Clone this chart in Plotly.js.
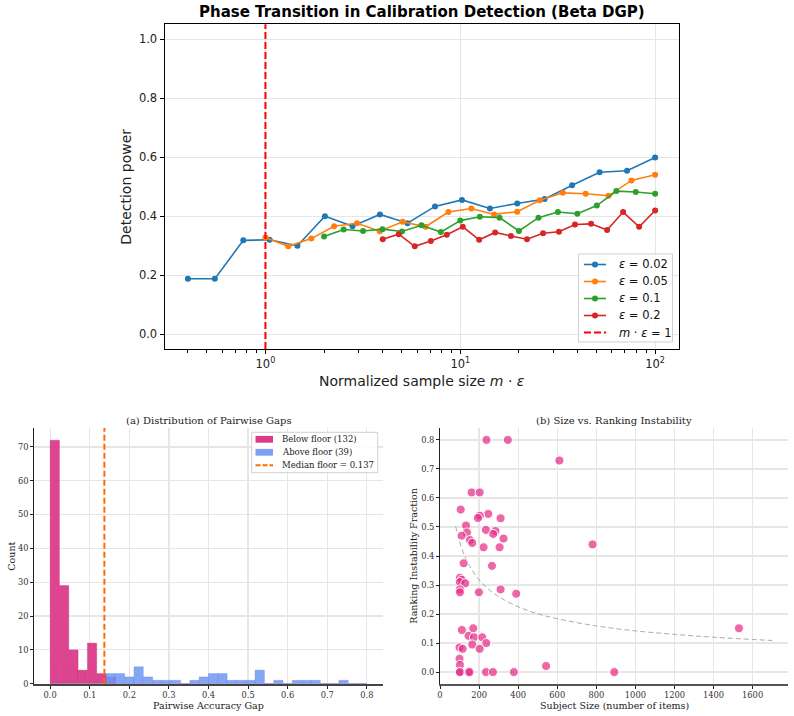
<!DOCTYPE html>
<html>
<head>
<meta charset="utf-8">
<script src="https://cdn.plot.ly/plotly-3.0.1.min.js"></script>
<style>html,body{margin:0;padding:0;background:#fff;}#chart{width:794px;height:716px;}</style>
</head>
<body>
<div id="chart"></div>
<script>
// ---------- Top panel: detection power vs normalized sample size ----------
const seriesNames = ['<i>ε</i> = 0.02', '<i>ε</i> = 0.05', '<i>ε</i> = 0.1', '<i>ε</i> = 0.2'];
const thresholdName = '<i>m</i> · <i>ε</i> = 1';
const seriesColors = ['#1f77b4', '#ff7f0e', '#2ca02c', '#d62728'];

const xEps002 = [0.40, 0.55, 0.77, 1.05, 1.46, 2.02, 2.80, 3.87, 5.36, 7.42, 10.2, 14.2, 19.6, 27.1, 37.5, 51.9, 71.8, 100];
const yEps002 = [0.188, 0.188, 0.318, 0.320, 0.300, 0.400, 0.366, 0.406, 0.376, 0.433, 0.455, 0.426, 0.443, 0.458, 0.505, 0.549, 0.554, 0.599];

const xEps005 = [1.00, 1.31, 1.72, 2.25, 2.95, 3.86, 5.06, 6.63, 8.69, 11.4, 14.9, 19.6, 25.6, 33.6, 44.0, 57.7, 75.6, 100];
const yEps005 = [0.328, 0.298, 0.324, 0.366, 0.376, 0.349, 0.381, 0.364, 0.414, 0.426, 0.406, 0.415, 0.454, 0.479, 0.476, 0.469, 0.521, 0.540];

const xEps01 = [2.00, 2.52, 3.17, 3.99, 5.02, 6.32, 7.95, 10.0, 12.6, 15.9, 20.0, 25.2, 31.7, 39.9, 50.2, 63.2, 79.5, 100];
const yEps01 = [0.331, 0.355, 0.350, 0.356, 0.348, 0.369, 0.346, 0.385, 0.398, 0.395, 0.350, 0.395, 0.414, 0.408, 0.436, 0.485, 0.482, 0.476];

const xEps02 = [4.00, 4.83, 5.84, 7.06, 8.53, 10.3, 12.5, 15.1, 18.2, 22.0, 26.6, 32.1, 38.8, 46.9, 56.7, 68.5, 82.8, 100];
const yEps02 = [0.322, 0.339, 0.298, 0.316, 0.337, 0.364, 0.320, 0.345, 0.333, 0.322, 0.342, 0.347, 0.372, 0.374, 0.353, 0.414, 0.364, 0.419];

const thresholdX = 1;
const topXTicks = [1, 10, 100];
const topXTickText = ['10<sup>0</sup>', '10<sup>1</sup>', '10<sup>2</sup>'];
const topXMinor = [0.4, 0.5, 0.6, 0.7, 0.8, 0.9, 2, 3, 4, 5, 6, 7, 8, 9, 20, 30, 40, 50, 60, 70, 80, 90];
const topYTicks = [0.0, 0.2, 0.4, 0.6, 0.8, 1.0];

// ---------- Bottom left: histogram of pairwise gaps ----------
const gapBinStart = 0.0;
const gapBinEnd = 0.8;
const belowFloorCounts = [72, 29, 10, 4, 12, 3, 2, 0, 0, 0, 0, 0, 0, 0, 0, 0, 0, 0, 0, 0, 0, 0, 0, 0, 0, 0, 0, 0, 0, 0, 0, 0, 0, 0];
const aboveFloorCounts = [0, 0, 0, 0, 0, 0, 3, 3, 2, 5, 2, 1, 1, 1, 0, 1, 2, 3, 3, 1, 1, 1, 4, 0, 1, 0, 1, 1, 1, 0, 0, 1, 0, 0];
const medianFloor = 0.137;
const histLegendLabels = ['Below floor (132)', 'Above floor (39)', 'Median floor = 0.137'];

// ---------- Bottom right: size vs ranking instability ----------
const subjectSize = [238, 347, 611, 162, 203, 106, 247, 204, 194, 310, 133, 138, 235, 284, 272, 111, 325, 153, 165, 781,
  223, 305, 121, 266, 102, 111, 102, 129, 102, 102, 199, 310, 390, 1530, 112, 170, 146, 174, 216, 237,
  165, 100, 116, 203, 100, 102, 100, 102, 146, 151, 235, 271, 378, 543, 892];
const instability = [0.80, 0.80, 0.729, 0.619, 0.619, 0.56, 0.545, 0.539, 0.531, 0.530, 0.505, 0.481, 0.49, 0.486, 0.476, 0.470, 0.46, 0.455, 0.445, 0.44,
  0.43, 0.43, 0.375, 0.366, 0.325, 0.318, 0.31, 0.306, 0.285, 0.275, 0.275, 0.285, 0.27, 0.151, 0.145, 0.151, 0.125, 0.12, 0.12, 0.10,
  0.095, 0.085, 0.08, 0.08, 0.046, 0.025, 0.0, 0.0, 0.0, 0.0, 0.0, 0.0, 0.0, 0.021, 0.0];
const refCurveX = [80, 100, 125, 150, 200, 250, 300, 400, 500, 600, 800, 1000, 1200, 1400, 1700];
const refCurveY = [0.503, 0.450, 0.402, 0.367, 0.318, 0.285, 0.260, 0.225, 0.201, 0.184, 0.159, 0.142, 0.130, 0.120, 0.109];

// ---------- build ----------
const W = 794, H = 716;
const px = v => v / W;
const py = v => 1 - v / H;

const nBins = belowFloorCounts.length;
const binW = (gapBinEnd - gapBinStart) / nBins;
const binCenters = belowFloorCounts.map((_, i) => gapBinStart + (i + 0.5) * binW);

const pinkBar = 'rgb(222,58,139)';
const blueBar = 'rgb(110,152,246)';
const medianColor = '#ff6a00';
const thresholdColor = '#ff0000';

const traces = [];
const topX = [xEps002, xEps005, xEps01, xEps02];
const topY = [yEps002, yEps005, yEps01, yEps02];
for (let i = 0; i < 4; i++) {
  traces.push({
    type: 'scatter', mode: 'lines+markers', x: topX[i], y: topY[i], name: seriesNames[i],
    line: {color: seriesColors[i], width: 1.6}, marker: {color: seriesColors[i], size: 6},
    xaxis: 'x', yaxis: 'y', showlegend: false
  });
}

traces.push({
  type: 'bar', x: binCenters, y: belowFloorCounts, width: binW, name: histLegendLabels[0],
  marker: {color: pinkBar, line: {color: 'rgba(170,30,100,0.5)', width: 0.6}},
  opacity: 0.95, xaxis: 'x2', yaxis: 'y2', showlegend: false
});
traces.push({
  type: 'bar', x: binCenters, y: aboveFloorCounts, width: binW, name: histLegendLabels[1],
  marker: {color: blueBar, line: {color: 'rgba(60,90,200,0.5)', width: 0.6}},
  opacity: 0.85, xaxis: 'x2', yaxis: 'y2', showlegend: false
});

traces.push({
  type: 'scatter', mode: 'lines', x: refCurveX, y: refCurveY, line: {color: '#aaaaaa', width: 1, dash: '5px,3px', shape: 'spline'},
  xaxis: 'x3', yaxis: 'y3', showlegend: false, hoverinfo: 'skip'
});
traces.push({
  type: 'scatter', mode: 'markers', x: subjectSize, y: instability,
  marker: {color: 'rgba(228,45,135,0.72)', size: 9, line: {color: 'rgba(255,255,255,0.9)', width: 1}},
  xaxis: 'x3', yaxis: 'y3', showlegend: false
});

const sans = 'DejaVu Sans, sans-serif';
const serif = 'DejaVu Serif, serif';
const gridC = '#e6e6e6';

const topAxisCommon = {
  showline: true, mirror: true, linecolor: '#000', linewidth: 1,
  ticks: 'outside', ticklen: 4, tickcolor: '#000', tickwidth: 1,
  showgrid: true, gridcolor: gridC, gridwidth: 1, zeroline: false,
  tickfont: {family: sans, size: 11.5, color: '#222'}
};
const botAxisCommon = {
  showline: true, linecolor: '#222', linewidth: 1,
  ticks: 'outside', ticklen: 3, tickcolor: '#222', tickwidth: 1,
  showgrid: true, gridcolor: gridC, gridwidth: 1.2, zeroline: false,
  tickfont: {family: serif, size: 8.3, color: '#333'}
};

const shapes = [
  {type: 'line', xref: 'x', yref: 'y domain', x0: thresholdX, x1: thresholdX, y0: 0, y1: 1,
   line: {color: thresholdColor, width: 2, dash: '7px,3px'}},
  {type: 'line', xref: 'x2', yref: 'y2 domain', x0: medianFloor, x1: medianFloor, y0: 0, y1: 1,
   line: {color: medianColor, width: 2, dash: '6px,3px'}}
];
const ann = (text, x, y, size, family, extra) => Object.assign({
  text: text, xref: 'paper', yref: 'paper', x: px(x), y: py(y), xanchor: 'center', yanchor: 'middle',
  showarrow: false, font: {family: family, size: size, color: '#222'}
}, extra || {});
const annotations = [
  ann('<b>Phase Transition in Calibration Detection (Beta DGP)</b>', 421.5, 12, 15, sans, {font: {family: sans, size: 15, color: '#000'}}),
  ann('Normalized sample size <i>m</i> · <i>ε</i>', 421.5, 381, 14, sans),
  ann('Detection power', 126, 186.7, 14, sans, {textangle: -90}),
  ann('(a) Distribution of Pairwise Gaps', 208.5, 420, 10, serif),
  ann('Pairwise Accuracy Gap', 208.5, 705, 9.5, serif),
  ann('Count', 10.7, 556, 9.5, serif, {textangle: -90}),
  ann('(b) Size vs. Ranking Instability', 614, 420, 10, serif),
  ann('Subject Size (number of items)', 614, 705, 9.5, serif),
  ann('Ranking Instability Fraction', 412.7, 556, 9.5, serif, {textangle: -90})
];

// --- top legend (drawn as a box with handles, paper pixel positions) ---
const tlBox = {x0: 578.5, y0: 254, x1: 672.5, y1: 342};
const tlRows = [264.5, 281.5, 298.5, 315.5, 332.5];
shapes.push({type: 'rect', xref: 'paper', yref: 'paper', x0: px(tlBox.x0), x1: px(tlBox.x1), y0: py(tlBox.y1), y1: py(tlBox.y0),
  fillcolor: 'rgba(255,255,255,0.85)', line: {color: '#d0d0d0', width: 1}});
seriesNames.forEach((name, i) => {
  shapes.push({type: 'line', xref: 'paper', yref: 'paper', x0: px(584), x1: px(606), y0: py(tlRows[i]), y1: py(tlRows[i]),
    line: {color: seriesColors[i], width: 1.6}});
  shapes.push({type: 'circle', xref: 'paper', yref: 'paper', x0: px(592), x1: px(598), y0: py(tlRows[i] + 3), y1: py(tlRows[i] - 3),
    fillcolor: seriesColors[i], line: {width: 0}});
  annotations.push(ann(name, 617, tlRows[i], 11.5, sans, {xanchor: 'left', font: {family: sans, size: 11.5, color: '#111'}}));
});
shapes.push({type: 'line', xref: 'paper', yref: 'paper', x0: px(584), x1: px(606), y0: py(tlRows[4]), y1: py(tlRows[4]),
  line: {color: thresholdColor, width: 2, dash: '7px,3px'}});
annotations.push(ann(thresholdName, 617, tlRows[4], 11.5, sans, {xanchor: 'left', font: {family: sans, size: 11.5, color: '#111'}}));

// --- histogram legend ---
const lgBox = {x0: 251.7, y0: 432.3, x1: 377.7, y1: 472.7};
const lgRows = [439.3, 452.3, 465.3];
shapes.push(
  {type: 'rect', xref: 'paper', yref: 'paper', x0: px(lgBox.x0), x1: px(lgBox.x1), y0: py(lgBox.y1), y1: py(lgBox.y0),
   fillcolor: 'rgba(255,255,255,0.85)', line: {color: '#d0d0d0', width: 1}},
  {type: 'rect', xref: 'paper', yref: 'paper', x0: px(255.5), x1: px(273), y0: py(lgRows[0] + 3.4), y1: py(lgRows[0] - 3.4),
   fillcolor: pinkBar, line: {width: 0}},
  {type: 'rect', xref: 'paper', yref: 'paper', x0: px(255.5), x1: px(273), y0: py(lgRows[1] + 3.4), y1: py(lgRows[1] - 3.4),
   fillcolor: blueBar, opacity: 0.9, line: {width: 0}},
  {type: 'line', xref: 'paper', yref: 'paper', x0: px(255.5), x1: px(273), y0: py(lgRows[2]), y1: py(lgRows[2]),
   line: {color: medianColor, width: 2, dash: '5px,2px'}}
);
histLegendLabels.forEach((t, i) => annotations.push(ann(t, 280, lgRows[i], 8.5, serif, {xanchor: 'left'})));

const layout = {
  width: W, height: H, margin: {l: 0, r: 0, t: 0, b: 0},
  paper_bgcolor: '#fff', plot_bgcolor: '#fff', showlegend: false, barmode: 'overlay',
  xaxis: Object.assign({}, topAxisCommon, {
    type: 'log', domain: [px(164.5), px(678.5)], range: [-0.518, 2.12], anchor: 'y',
    tickmode: 'array', tickvals: topXTicks, ticktext: topXTickText,
    minor: {tickmode: 'array', tickvals: topXMinor, ticks: 'outside', ticklen: 2.5, tickcolor: '#000', showgrid: false}
  }),
  yaxis: Object.assign({}, topAxisCommon, {
    domain: [py(349), py(24.3)], range: [-0.05, 1.05], anchor: 'x',
    tickmode: 'array', tickvals: topYTicks, tickformat: '.1f'
  }),
  xaxis2: Object.assign({}, botAxisCommon, {
    domain: [px(34.3), px(382.7)], range: [-0.04, 0.84], anchor: 'y2', dtick: 0.1, tick0: 0, tickformat: '.1f',
    linecolor: '#444', linewidth: 1.8
  }),
  yaxis2: Object.assign({}, botAxisCommon, {
    domain: [py(683.7), py(428)], range: [0, 75.6], anchor: 'x2', dtick: 10, tick0: 0
  }),
  xaxis3: Object.assign({}, botAxisCommon, {
    domain: [px(440), px(788)], range: [0, 1781], anchor: 'y3', dtick: 200, tick0: 0,
    linecolor: '#555', linewidth: 1.8
  }),
  yaxis3: Object.assign({}, botAxisCommon, {
    domain: [py(683.7), py(428.3)], range: [-0.04, 0.84], anchor: 'x3', dtick: 0.1, tick0: 0, tickformat: '.1f'
  }),
  shapes: shapes,
  annotations: annotations
};

Plotly.newPlot('chart', traces, layout, {displayModeBar: false, staticPlot: true});
</script>
</body>
</html>
